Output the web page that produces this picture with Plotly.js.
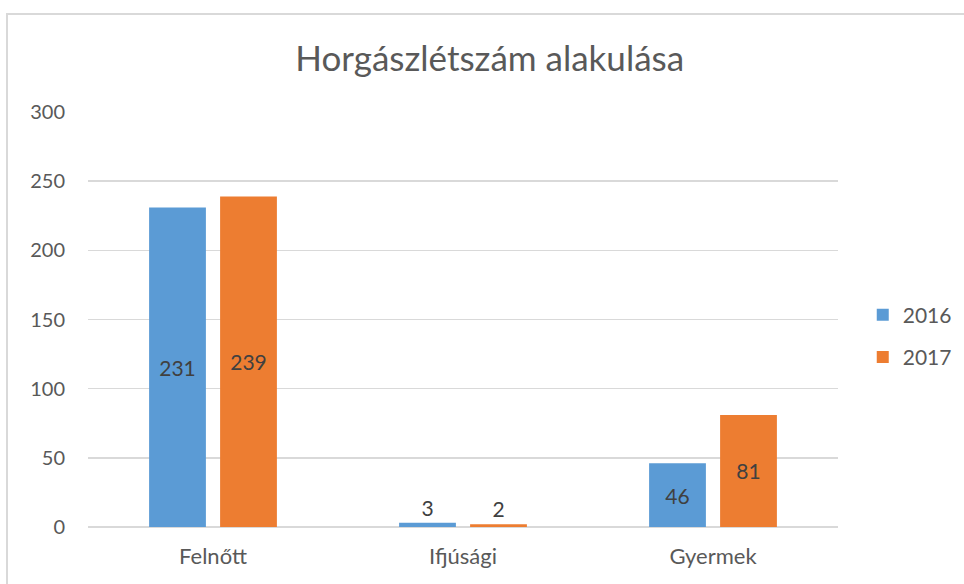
<!DOCTYPE html>
<html>
<head>
<meta charset="utf-8">
<script src="https://cdn.plot.ly/plotly-3.0.1.min.js"></script>
<style>
body{margin:0;padding:0;background:#fff;overflow:hidden;}
#wrap{position:relative;width:964px;height:584px;overflow:hidden;}
#chart{width:964px;height:584px;}
#frame{position:absolute;left:6px;top:13px;width:1000px;height:1000px;border:2px solid #d9d9d9;pointer-events:none;}
</style>
</head>
<body>
<div id="wrap"><div id="chart"></div><div id="frame"></div></div>
<script>
const categories = ["Felnőtt", "Ifjúsági", "Gyermek"];
const values2016 = [231, 3, 46];
const values2017 = [239, 2, 81];
const seriesNames = ["2016", "2017"];
const yTicks = [0, 50, 100, 150, 200, 250, 300];

const font = "Lato, 'Open Sans', sans-serif";
const txtColor = "#404040";

function mk(name, vals, color, grp) {
  return {
    type: "bar", name: name, x: categories, y: vals, legendgroup: grp,
    marker: {color: color},
    text: vals.map(String), textposition: "auto",
    insidetextanchor: "middle",
    textfont: {family: font, size: 21, color: txtColor},
    insidetextfont: {family: font, size: 21, color: txtColor},
    outsidetextfont: {family: font, size: 21, color: txtColor},
    cliponaxis: false,
    hoverinfo: "none"
  };
}

const data = [mk(seriesNames[0], values2016, "#5B9BD5", "a"), mk(seriesNames[1], values2017, "#ED7D31", "b")];

const layout = {
  width: 964, height: 584,
  margin: {l: 88, r: 126, t: 112, b: 57, pad: 0, autoexpand: false},
  paper_bgcolor: "#fff", plot_bgcolor: "#fff",
  title: {text: "Horgászlétszám alakulása", font: {family: font, size: 35, color: "#595959"},
          x: 0.508, xanchor: "center", y: 0.9, yanchor: "middle", yref: "container"},
  barmode: "group", bargap: 0.432, bargroupgap: 0.2,
  showlegend: true,
  legend: {x: 1.033, xanchor: "left", y: 0.46, yanchor: "middle",
           font: {family: font, size: 21, color: "#595959"}, tracegroupgap: 12,
           traceorder: "grouped", bgcolor: "rgba(0,0,0,0)"},
  xaxis: {type: "category", showgrid: false, zeroline: false, showline: false, ticks: "",
          tickfont: {family: font, size: 22, color: "#595959"}, ticklabelstandoff: 14},
  yaxis: {range: [0, 300], tickvals: yTicks, showgrid: true, gridcolor: "#d9d9d9", gridwidth: 1.5,
          zeroline: true, zerolinecolor: "#d9d9d9", zerolinewidth: 2, showline: false, ticks: "",
          tickfont: {family: font, size: 20, color: "#595959"}, ticklabelstandoff: 22}
};

Plotly.newPlot("chart", data, layout, {displayModeBar: false, staticPlot: true});
</script>
</body>
</html>
